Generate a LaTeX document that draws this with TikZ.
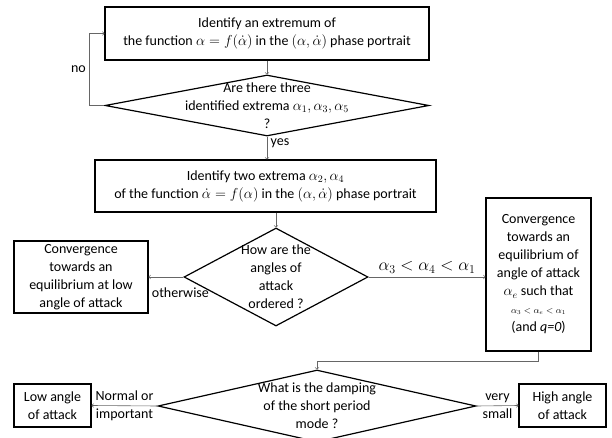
\documentclass[tikz,border=0pt]{standalone}
\usepackage{fontspec}
\setmainfont{Carlito}
\usetikzlibrary{shapes,arrows,positioning}

\begin{document}
\begin{tikzpicture}[
    x=1pt, y=-1pt,
    font=\fontsize{14}{18}\selectfont,
    box/.style={rectangle, draw, line width=1.2pt, align=center, inner sep=2pt},
    decision/.style={diamond, draw, line width=1.2pt, inner sep=0pt},
    question/.style={align=center, inner sep=0pt},
    arrow/.style={draw=gray!80!black, -to, line width=0.6pt}]

    \useasboundingbox (0,0) rectangle (612,438);

    % First identification step
    \node [box, minimum width=324pt, minimum height=53pt] (extr1) at (267,33.5)
        {Identify an extremum of\\
         the function $\alpha = f\bigl(\dot{\alpha}\bigr)$ in the $\bigl(\alpha,\dot{\alpha}\bigr)$ phase portrait};

    % Test on the number of extrema
    \node [decision, minimum width=324pt, minimum height=61pt] (three) at (267,105.5) {};
    \node [question] (threeq) at (three) {Are there three\\
                                          identified extrema $\alpha_1,\alpha_3,\alpha_5$\\
                                          ?};

    % Second identification step
    \node [box, minimum width=341pt, minimum height=52pt] (extr2) at (265.5,186)
        {Identify two extrema $\alpha_2,\alpha_4$\\
         of the function $\dot{\alpha} = f\bigl(\alpha\bigr)$ in the $\bigl(\alpha,\dot{\alpha}\bigr)$ phase portrait};

    % Ordering of the angles
    \node [decision, minimum width=184pt, minimum height=98pt] (order) at (276,277) {};
    \node [question] (orderq) at (order) {How are the\\
                                          angles of\\
                                          attack\\
                                          ordered ?};

    \node [box, minimum width=134pt, minimum height=72pt] (lowconv) at (81,277)
        {Convergence\\
         towards an\\
         equilibrium at low\\
         angle of attack};

    \node [box, minimum width=105pt, minimum height=153pt] (eqconv) at (538.5,274.5)
        {Convergence\\
         towards an\\
         equilibrium of\\
         angle of attack\\
         $\alpha_e$ such that\\
         {\fontsize{9}{12}\selectfont $\alpha_3<\alpha_e<\alpha_1$}\\
         (and \textit{q=0})};

    % Damping of the short period mode
    \node [decision, minimum width=318pt, minimum height=72pt] (damping) at (317,406) {};
    \node [question] (dampingq) at (damping) {What is the damping\\
                                              of the short period\\
                                              mode ?};

    \node [box, minimum width=77pt, minimum height=43pt] (low) at (52.5,405.5) {Low angle\\ of attack};
    \node [box, minimum width=87pt, minimum height=43pt] (high) at (562.5,405.5) {High angle\\ of attack};

    % Connectors
    \draw [arrow] (three.west) -- ++(-15,0) |- node [pos=0.25, left] {no} (extr1.west);
    \draw [arrow] (extr1.south) -- (three.north);
    \draw [arrow] (three.south) -- node [pos=0.3, right] {yes} (three.south |- extr2.north);
    \draw [arrow] (extr2.south -| order.north) -- (order.north);
    \draw [arrow] (order.west) -- node [at start, below, xshift=-3pt, yshift=-7pt] {otherwise} (lowconv.east);
    \draw [arrow] (order.east) -- node [midway, above, font=\fontsize{18}{18}\selectfont] {$\alpha_3<\alpha_4<\alpha_1$} (order.east -| eqconv.west);
    \draw [arrow] (eqconv.south) -- ++(0,10) -| (damping.north);
    \draw [arrow] (damping.west) -- node [midway, align=center] {Normal or\\ important} (low.east);
    \draw [arrow] (damping.east) -- node [midway, align=center] {very\\ small} (high.west);
\end{tikzpicture}
\end{document}
